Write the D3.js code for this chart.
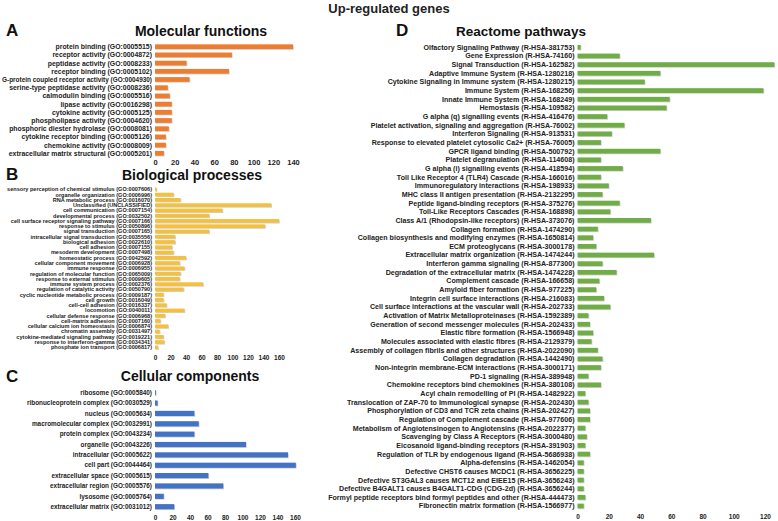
<!DOCTYPE html>
<html>
<head>
<meta charset="utf-8">
<script src="https://cdn.jsdelivr.net/npm/d3@7"></script>
<style>
  html, body { margin: 0; padding: 0; background: #fff; }
  svg { display: block; font-family: "Liberation Sans", Arial, sans-serif; }
</style>
</head>
<body>
<svg id="chart" width="778" height="521"></svg>
<script>
// ---------------- DATA ----------------
const mfCategories = [
  "protein binding (GO:0005515)",
  "receptor activity (GO:0004872)",
  "peptidase activity (GO:0008233)",
  "receptor binding (GO:0005102)",
  "G-protein coupled receptor activity (GO:0004930)",
  "serine-type peptidase activity (GO:0008236)",
  "calmodulin binding (GO:0005516)",
  "lipase activity (GO:0016298)",
  "cytokine activity (GO:0005125)",
  "phospholipase activity (GO:0004620)",
  "phosphoric diester hydrolase (GO:0008081)",
  "cytokine receptor binding (GO:0005126)",
  "chemokine activity (GO:0008009)",
  "extracellular matrix structural (GO:0005201)"
];
const mfValues = [140, 78, 32, 75, 35, 13, 15, 17, 17, 17, 14, 11, 11, 9];
const mfTicks = [0, 20, 40, 60, 80, 100, 120, 140];

const bpCategories = [
  "sensory perception of chemical stimulus (GO:0007606)",
  "organelle organization (GO:0006996)",
  "RNA metabolic process (GO:0016070)",
  "Unclassified (UNCLASSIFIED)",
  "cell communication (GO:0007154)",
  "developmental process (GO:0032502)",
  "cell surface receptor signaling pathway (GO:0007166)",
  "response to stimulus (GO:0050896)",
  "signal transduction (GO:0007165)",
  "intracellular signal transduction (GO:0035556)",
  "biological adhesion (GO:0022610)",
  "cell adhesion (GO:0007155)",
  "mesoderm development (GO:0007498)",
  "homeostatic process (GO:0042592)",
  "cellular component movement (GO:0006928)",
  "immune response (GO:0006955)",
  "regulation of molecular function (GO:0065009)",
  "response to external stimulus (GO:0009605)",
  "immune system process (GO:0002376)",
  "regulation of catalytic activity (GO:0050790)",
  "cyclic nucleotide metabolic process (GO:0009187)",
  "cell growth (GO:0016049)",
  "cell-cell adhesion (GO:0016337)",
  "locomotion (GO:0040011)",
  "cellular defense response (GO:0006968)",
  "cell-matrix adhesion (GO:0007160)",
  "cellular calcium ion homeostasis (GO:0006874)",
  "chromatin assembly (GO:0031497)",
  "cytokine-mediated signaling pathway (GO:0019221)",
  "response to interferon-gamma (GO:0034341)",
  "phosphate ion transport (GO:0006817)"
];
const bpValues = [2, 24, 33, 150, 87, 70, 160, 142, 70, 26, 26, 22, 24, 40, 32, 38, 33, 32, 62, 37, 11, 11, 15, 38, 13, 7, 17, 6, 11, 12, 4];
const bpTicks = [0, 20, 40, 60, 80, 100, 120, 140, 160];

const ccCategories = [
  "ribosome (GO:0005840)",
  "ribonucleoprotein complex (GO:0030529)",
  "nucleus (GO:0005634)",
  "macromolecular complex (GO:0032991)",
  "protein complex (GO:0043234)",
  "organelle (GO:0043226)",
  "intracellular (GO:0005622)",
  "cell part (GO:0044464)",
  "extracellular space (GO:0005615)",
  "extracellular region (GO:0005576)",
  "lysosome (GO:0005764)",
  "extracellular matrix (GO:0031012)"
];
const ccValues = [1, 3, 45, 50, 45, 104, 152, 161, 61, 78, 10, 22];
const ccTicks = [0, 20, 40, 60, 80, 100, 120, 140, 160];

const rpCategories = [
  "Olfactory Signaling Pathway (R-HSA-381753)",
  "Gene Expression (R-HSA-74160)",
  "Signal Transduction (R-HSA-162582)",
  "Adaptive Immune System (R-HSA-1280218)",
  "Cytokine Signaling in Immune system (R-HSA-1280215)",
  "Immune System (R-HSA-168256)",
  "Innate Immune System (R-HSA-168249)",
  "Hemostasis (R-HSA-109582)",
  "G alpha (q) signalling events (R-HSA-416476)",
  "Platelet activation, signaling and aggregation (R-HSA-76002)",
  "Interferon Signaling (R-HSA-913531)",
  "Response to elevated platelet cytosolic Ca2+ (R-HSA-76005)",
  "GPCR ligand binding (R-HSA-500792)",
  "Platelet degranulation  (R-HSA-114608)",
  "G alpha (i) signalling events (R-HSA-418594)",
  "Toll Like Receptor 4 (TLR4) Cascade (R-HSA-166016)",
  "Immunoregulatory interactions  (R-HSA-198933)",
  "MHC class II antigen presentation (R-HSA-2132295)",
  "Peptide ligand-binding receptors (R-HSA-375276)",
  "Toll-Like Receptors Cascades (R-HSA-168898)",
  "Class A/1 (Rhodopsin-like receptors) (R-HSA-373076)",
  "Collagen formation (R-HSA-1474290)",
  "Collagen biosynthesis and modifying enzymes (R-HSA-1650814)",
  "ECM proteoglycans (R-HSA-3000178)",
  "Extracellular matrix organization (R-HSA-1474244)",
  "Interferon gamma signaling (R-HSA-877300)",
  "Degradation of the extracellular matrix (R-HSA-1474228)",
  "Complement cascade (R-HSA-166658)",
  "Amyloid fiber formation (R-HSA-977225)",
  "Integrin cell surface interactions (R-HSA-216083)",
  "Cell surface interactions at the vascular wall (R-HSA-202733)",
  "Activation of Matrix Metalloproteinases (R-HSA-1592389)",
  "Generation of second messenger molecules (R-HSA-202433)",
  "Elastic fibre formation (R-HSA-1566948)",
  "Molecules associated with elastic fibres (R-HSA-2129379)",
  "Assembly of collagen fibrils and other structures (R-HSA-2022090)",
  "Collagen degradation (R-HSA-1442490)",
  "Non-integrin membrane-ECM interactions (R-HSA-3000171)",
  "PD-1 signaling (R-HSA-389948)",
  "Chemokine receptors bind chemokines (R-HSA-380108)",
  "Acyl chain remodelling of PI (R-HSA-1482922)",
  "Translocation of ZAP-70 to Immunological synapse (R-HSA-202430)",
  "Phosphorylation of CD3 and TCR zeta chains (R-HSA-202427)",
  "Regulation of Complement cascade (R-HSA-977606)",
  "Metabolism of Angiotensinogen to Angiotensins (R-HSA-2022377)",
  "Scavenging by Class A Receptors (R-HSA-3000480)",
  "Eicosanoid ligand-binding receptors (R-HSA-391903)",
  "Regulation of TLR by endogenous ligand (R-HSA-5686938)",
  "Alpha-defensins (R-HSA-1462054)",
  "Defective CHST6 causes MCDC1 (R-HSA-3656225)",
  "Defective ST3GAL3 causes MCT12 and EIEE15 (R-HSA-3656243)",
  "Defective B4GALT1 causes B4GALT1-CDG (CDG-2d) (R-HSA-3656244)",
  "Formyl peptide receptors bind formyl peptides and other (R-HSA-444473)",
  "Fibronectin matrix formation (R-HSA-1566977)"
];
const rpValues = [2, 27, 126, 53, 43, 119, 59, 57, 19, 30, 22, 15, 53, 15, 29, 15, 20, 16, 27, 21, 47, 13, 10, 12, 49, 16, 25, 14, 12, 17, 21, 7, 8, 10, 9, 13, 16, 15, 7, 15, 5, 7, 8, 8, 5, 6, 5, 8, 4, 4, 4, 4, 5, 4];
const rpTicks = [0, 20, 40, 60, 80, 100, 120];

// ---------------- DRAW ----------------
const svg = d3.select("#chart");

svg.append("text")
  .attr("x", 389).attr("y", 13)
  .attr("text-anchor", "middle")
  .attr("font-weight", "bold").attr("font-size", 13)
  .attr("fill", "#222")
  .text("Up-regulated genes");

function panel(cfg) {
  const g = svg.append("g");
  const n = cfg.categories.length;
  const step = (cfg.lastY - cfg.firstY) / (n - 1);
  const y = d3.scaleBand()
    .domain(cfg.categories)
    .range([cfg.firstY - step / 2, cfg.lastY + step / 2])
    .paddingInner(cfg.pad).paddingOuter(cfg.pad / 2);
  const x = d3.scaleLinear().domain([0, cfg.max]).range([cfg.x0, cfg.x1]);

  g.append("text")
    .attr("x", cfg.letterX).attr("y", cfg.letterY)
    .attr("font-weight", "bold").attr("font-size", 17)
    .attr("fill", "#111")
    .text(cfg.letter);
  g.append("text")
    .attr("x", cfg.titleX).attr("y", cfg.titleY)
    .attr("text-anchor", "middle")
    .attr("font-weight", "bold").attr("font-size", cfg.titleSize)
    .attr("fill", "#111")
    .text(cfg.title);

  const data = cfg.categories.map((c, i) => ({ c, v: cfg.values[i] }));

  g.selectAll("rect.sh").data(data).enter().append("rect")
    .attr("class", "sh")
    .attr("x", x(0) + 0.8)
    .attr("y", d => y(d.c) + 0.8)
    .attr("width", d => Math.max(0, x(d.v) - x(0)))
    .attr("height", y.bandwidth())
    .attr("fill", "#000").attr("opacity", 0.18);
  g.selectAll("rect.bar").data(data).enter().append("rect")
    .attr("class", "bar")
    .attr("x", x(0))
    .attr("y", d => y(d.c))
    .attr("width", d => Math.max(0, x(d.v) - x(0)))
    .attr("height", y.bandwidth())
    .attr("fill", cfg.color);

  const labX = cfg.x0 - 3;
  const maxW = labX - cfg.minLeft;
  g.selectAll("text.lab").data(data).enter().append("text")
    .attr("class", "lab")
    .attr("x", labX)
    .attr("y", d => y(d.c) + y.bandwidth() / 2)
    .attr("dy", "0.35em")
    .attr("text-anchor", "end")
    .attr("font-weight", "bold")
    .attr("font-size", cfg.labelSize)
    .attr("fill", "#222")
    .text(d => d.c)
    .each(function () {
      const w = this.getComputedTextLength();
      if (w > maxW) {
        d3.select(this).attr("textLength", maxW).attr("lengthAdjust", "spacingAndGlyphs");
      }
    });

  const ax = g.append("g")
    .attr("transform", `translate(0,${cfg.axisY})`)
    .call(d3.axisBottom(x).tickValues(cfg.ticks).tickSize(0).tickPadding(0));
  ax.select(".domain").remove();
  ax.selectAll("text")
    .attr("font-family", "Liberation Sans, Arial, sans-serif")
    .attr("font-weight", "bold")
    .attr("font-size", cfg.tickSize)
    .attr("fill", "#222")
    .attr("dy", "0");
}

panel({
  letter: "A", letterX: 6, letterY: 36,
  title: "Molecular functions", titleX: 201, titleY: 36, titleSize: 14,
  categories: mfCategories, values: mfValues, ticks: mfTicks, max: 140,
  x0: 155, x1: 293, firstY: 46.7, lastY: 153.3, pad: 0.42,
  color: "#ED7D31", labelSize: 6.9, tickSize: 7.5, axisY: 165, minLeft: 2
});

panel({
  letter: "B", letterX: 6, letterY: 180,
  title: "Biological processes", titleX: 192, titleY: 180, titleSize: 14,
  categories: bpCategories, values: bpValues, ticks: bpTicks, max: 160,
  x0: 155, x1: 279, firstY: 189.3, lastY: 347.3, pad: 0.3,
  color: "#F4C040", labelSize: 5.55, tickSize: 6.5, axisY: 359.5, minLeft: 4
});

panel({
  letter: "C", letterX: 6, letterY: 382,
  title: "Cellular components", titleX: 190, titleY: 381, titleSize: 14,
  categories: ccCategories, values: ccValues, ticks: ccTicks, max: 160,
  x0: 155, x1: 295, firstY: 392.7, lastY: 506.7, pad: 0.5,
  color: "#4472C4", labelSize: 6.4, tickSize: 6.5, axisY: 519.5, minLeft: 2
});

panel({
  letter: "D", letterX: 396, letterY: 36,
  title: "Reactome pathways", titleX: 521, titleY: 36, titleSize: 13.5,
  categories: rpCategories, values: rpValues, ticks: rpTicks, max: 120,
  x0: 577.5, x1: 765, firstY: 47.3, lastY: 506, pad: 0.45,
  color: "#70AD47", labelSize: 7.1, tickSize: 6.5, axisY: 519, minLeft: 305
});
</script>
</body>
</html>
